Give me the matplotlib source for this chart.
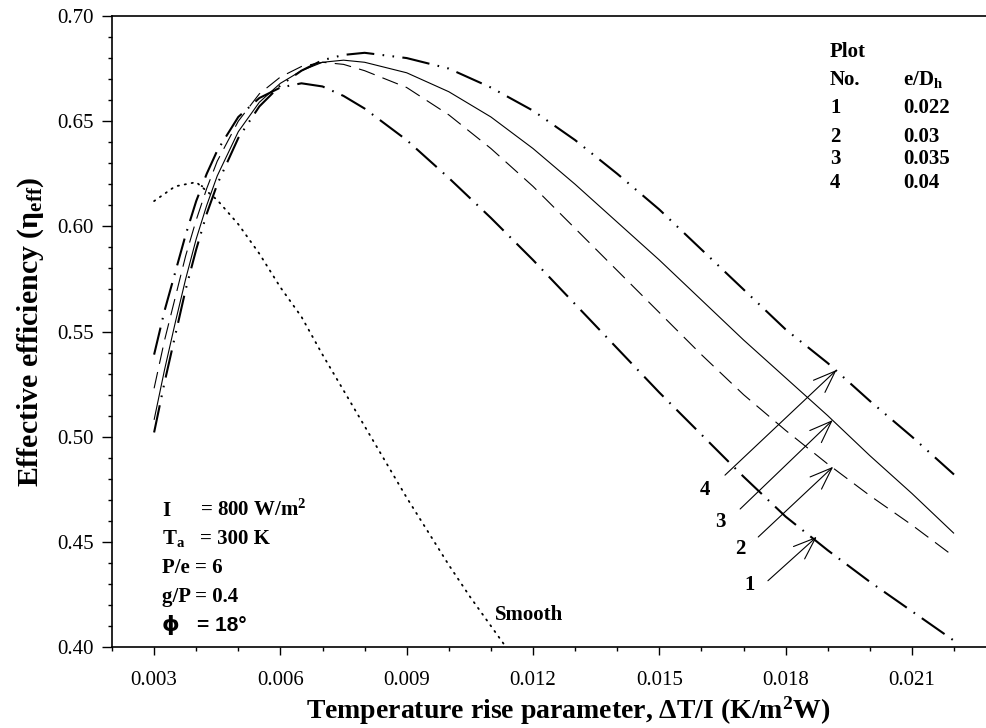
import numpy as np
import matplotlib
matplotlib.use("Agg")
import matplotlib.pyplot as plt
from matplotlib.ticker import MultipleLocator, FormatStrFormatter

plt.rcParams['font.family'] = ['Liberation Serif', 'DejaVu Serif']
plt.rcParams['mathtext.fontset'] = 'custom'
plt.rcParams['mathtext.rm'] = 'Liberation Serif'
plt.rcParams['mathtext.bf'] = 'Liberation Serif:bold'
plt.rcParams['mathtext.it'] = 'Liberation Serif:italic'
plt.rcParams['lines.scale_dashes'] = False

# temperature rise parameter (K m2/W)
x_rough = [0.003, 0.00325, 0.0035, 0.00375, 0.004, 0.00425, 0.0045, 0.005, 0.0055,
           0.006, 0.0065, 0.007, 0.0075, 0.008, 0.009, 0.010, 0.011, 0.012, 0.013,
           0.014, 0.015, 0.016, 0.017, 0.018, 0.019, 0.020, 0.021, 0.022]

# effective efficiency, one list per e/Dh
eff_1 = [0.539, 0.560, 0.578, 0.596, 0.612, 0.625, 0.636, 0.652, 0.661,
         0.666, 0.668, 0.6665, 0.662, 0.656, 0.641, 0.623, 0.604, 0.584, 0.563,
         0.542, 0.521, 0.501, 0.481, 0.462, 0.446, 0.431, 0.417, 0.403]
eff_2 = [0.523, 0.546, 0.566, 0.586, 0.603, 0.618, 0.631, 0.650, 0.663,
         0.671, 0.676, 0.678, 0.677, 0.674, 0.666, 0.653, 0.637, 0.619, 0.599,
         0.579, 0.559, 0.539, 0.520, 0.503, 0.487, 0.472, 0.458, 0.443]
eff_3 = [0.508, 0.532, 0.554, 0.575, 0.594, 0.610, 0.624, 0.645, 0.659,
         0.668, 0.674, 0.678, 0.679, 0.678, 0.673, 0.664, 0.652, 0.637, 0.620,
         0.602, 0.584, 0.565, 0.546, 0.528, 0.510, 0.491, 0.473, 0.454]
eff_4 = [0.502, 0.526, 0.548, 0.570, 0.589, 0.606, 0.620, 0.642, 0.657,
         0.667, 0.674, 0.679, 0.6815, 0.6825, 0.680, 0.675, 0.666, 0.655, 0.641,
         0.625, 0.608, 0.589, 0.570, 0.551, 0.535, 0.517, 0.500, 0.482]

x_smooth = [0.003, 0.0035, 0.004, 0.0045, 0.005, 0.0055, 0.006, 0.0065, 0.007,
            0.0075, 0.008, 0.0085, 0.009, 0.0095, 0.010, 0.0105, 0.011, 0.0115]
eff_smooth = [0.612, 0.619, 0.621, 0.6125, 0.601, 0.587, 0.571, 0.557, 0.539,
              0.522, 0.505, 0.488, 0.471, 0.455, 0.439, 0.424, 0.410, 0.396]

plot_no = ["1", "2", "3", "4"]
e_dh = ["0.022", "0.03", "0.035", "0.04"]

# arrow tails/heads and label spots for the plot numbers
arrow_tail = [(0.01758, 0.4315), (0.01735, 0.4523), (0.01692, 0.4656), (0.01656, 0.4817)]
arrow_head = [(0.01874, 0.4524), (0.01913, 0.4857), (0.01912, 0.5079), (0.01921, 0.5317)]
label_pos = [(0.01715, 0.4294), (0.01692, 0.4466), (0.01644, 0.4594), (0.01609, 0.4746)]

W, H = 986, 728
fig = plt.figure(figsize=(W / 100, H / 100), dpi=100)
ax = fig.add_axes([112 / W, (H - 647) / H, 874 / W, 631 / H])


def px(x, y):
    return x / W, 1 - y / H


styles = [
    dict(color='black', lw=1.5, dashes=(20, 6, 1.2, 6)),
    dict(color='black', lw=0.8, dashes=(12, 6)),
    dict(color='black', lw=0.8, linestyle='-'),
    dict(color='black', lw=1.5, dashes=(20, 6, 1.2, 6, 1.2, 6)),
]
for ys, st in zip([eff_1, eff_2, eff_3, eff_4], styles):
    ax.plot(x_rough, ys, solid_capstyle='butt', dash_capstyle='butt', **st)

ax.plot(x_smooth, eff_smooth, color='black', lw=1.3, dashes=(0.9, 4.2),
        dash_capstyle='round')

for (tx, ty), (hx, hy), (lx, ly), n in zip(arrow_tail, arrow_head, label_pos, plot_no):
    ax.annotate('', xy=(hx, hy), xytext=(tx, ty),
                arrowprops=dict(arrowstyle='->,head_length=0.8,head_width=0.3',
                                lw=0.8, color='black', shrinkA=0, shrinkB=0,
                                mutation_scale=20))
    ax.text(lx, ly, n, fontsize=15, fontweight='bold', ha='center', va='center')

ax.set_xlim(0.002, 0.02276)
ax.set_ylim(0.40, 0.70)
ax.xaxis.set_minor_locator(MultipleLocator(0.001))
ax.yaxis.set_major_locator(MultipleLocator(0.05))
ax.yaxis.set_minor_locator(MultipleLocator(0.01))
ax.xaxis.set_major_formatter(FormatStrFormatter('%.3f'))
ax.yaxis.set_major_formatter(FormatStrFormatter('%.2f'))
ax.set_xticks([t for t in np.arange(0.003, 0.0215, 0.003)])
ax.tick_params(axis='both', which='major', direction='out', width=1.0, labelsize=15)
ax.tick_params(axis='y', which='major', length=7, pad=6)
ax.tick_params(axis='x', which='major', length=6, pad=11)
ax.tick_params(axis='both', which='minor', direction='out', length=3, width=1.0)
ax.spines['right'].set_visible(False)
for s in ['left', 'bottom', 'top']:
    ax.spines[s].set_linewidth(1.2)

ax.set_ylabel(r'Effective efficiency ($\mathbf{\eta_{eff}}$)',
              fontsize=21.5, fontweight='bold', labelpad=8)
fig.text(*px(568, 719), r'Temperature rise parameter, ΔT/I (K/m$^{\mathbf{2}}$W)',
         fontsize=20, fontweight='bold', ha='center', va='baseline')

# legend block
fig.text(*px(830, 57), 'Plot', fontsize=15, fontweight='bold', va='baseline')
fig.text(*px(830, 85), 'No.', fontsize=15, fontweight='bold', va='baseline')
fig.text(*px(903, 85), r'e/D$_{\mathbf{h}}$', fontsize=15, fontweight='bold', va='baseline')
for n, v, yb in zip(plot_no, e_dh, [113, 142, 164, 188]):
    fig.text(*px(830, yb), n, fontsize=15, fontweight='bold', va='baseline')
    fig.text(*px(903, yb), v, fontsize=15, fontweight='bold', va='baseline')

# operating conditions
cond_left = ['I', r'T$_{\mathbf{a}}$', 'P/e = 6', 'g/P = 0.4']
cond_right = [r'= 800 W/m$^{\mathbf{2}}$', '= 300 K', '', '']
for a, b, yb in zip(cond_left, cond_right, [516, 544, 573, 602]):
    fig.text(*px(162, yb), a, fontsize=15, fontweight='bold', va='baseline')
    if b:
        fig.text(*px(200, yb), b, fontsize=15, fontweight='bold', va='baseline')
fig.text(*px(162, 631), 'ϕ', fontsize=16, fontweight='bold', va='baseline',
         family=['DejaVu Sans'])
fig.text(*px(197, 631), '= 18°', fontsize=15, fontweight='bold', va='baseline',
         family=['Liberation Sans', 'DejaVu Sans'])

fig.text(*px(495, 620), 'Smooth', fontsize=15, fontweight='bold', va='baseline')

fig.savefig('out.png', dpi=100)
